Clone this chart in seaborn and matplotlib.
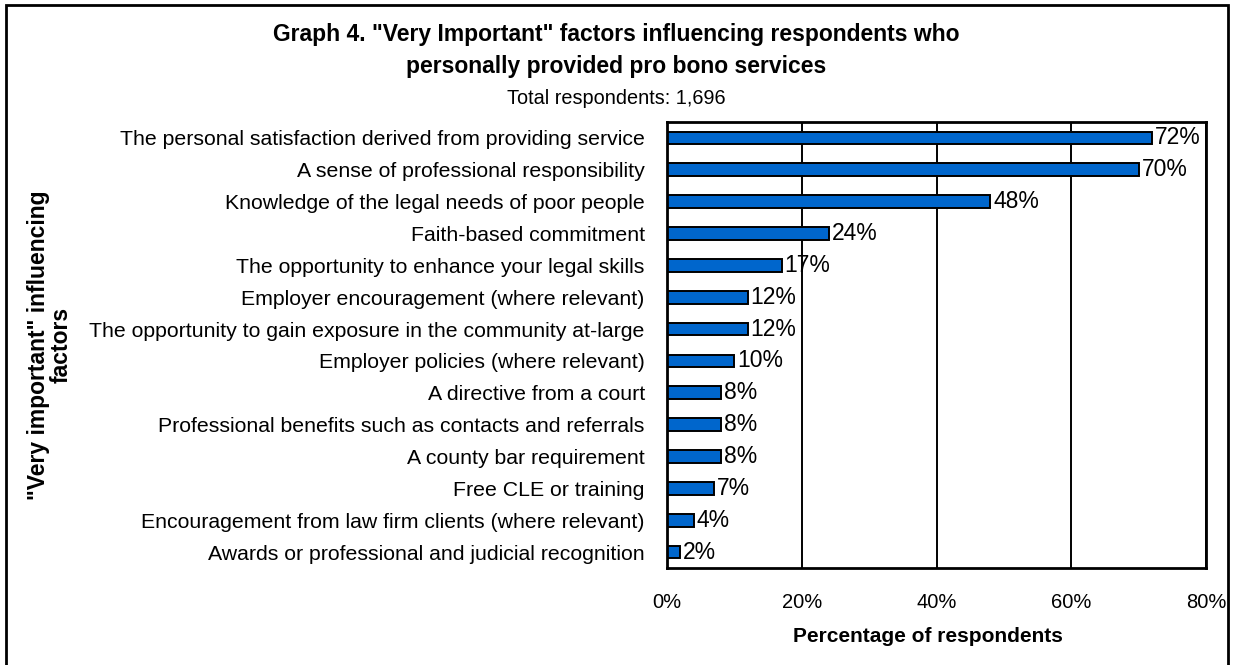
import matplotlib
matplotlib.use("Agg")
import matplotlib.pyplot as plt
from matplotlib.patches import Rectangle
from matplotlib.ticker import FuncFormatter
import seaborn as sns
import pandas as pd

# Factors rated "very important" and the share of respondents choosing each
factors = [
    "The personal satisfaction derived from providing service",
    "A sense of professional responsibility",
    "Knowledge of the legal needs of poor people",
    "Faith-based commitment",
    "The opportunity to enhance your legal skills",
    "Employer encouragement (where relevant)",
    "The opportunity to gain exposure in the community at-large",
    "Employer policies (where relevant)",
    "A directive from a court",
    "Professional benefits such as contacts and referrals",
    "A county bar requirement",
    "Free CLE or training",
    "Encouragement from law firm clients (where relevant)",
    "Awards or professional and judicial recognition",
]
percent = [72, 70, 48, 24, 17, 12, 12, 10, 8, 8, 8, 7, 4, 2]
x_ticks = [0, 20, 40, 60, 80]

title_lines = ['Graph 4. "Very Important" factors influencing respondents who',
               'personally provided pro bono services']
subtitle = "Total respondents: 1,696"
x_title = "Percentage of respondents"
y_title = '"Very important" influencing\nfactors'

df = pd.DataFrame({"factor": factors, "percent": percent})

sns.set_style("white")
plt.rcParams["font.family"] = ["Liberation Sans", "DejaVu Sans"]
plt.rcParams["text.color"] = "black"
plt.rcParams["xtick.color"] = "black"
plt.rcParams["ytick.color"] = "black"

W, H = 1233, 665
fig = plt.figure(figsize=(W / 100, H / 100), dpi=100)
fig.patch.set_facecolor("white")

# plot area in pixel terms
left, right, top, bottom = 667, 1206, 122, 568
ax = fig.add_axes([left / W, 1 - bottom / H, (right - left) / W, (bottom - top) / H])

sns.barplot(data=df, x="percent", y="factor", orient="h", color="#0066CC",
            saturation=1, edgecolor="black", linewidth=1.4, width=0.4, ax=ax)

ax.set_xlim(0, 80)
ax.set_xticks(x_ticks)
ax.xaxis.set_major_formatter(FuncFormatter(lambda v, _: f"{v:.0f}%"))
ax.grid(axis="x", color="black", linewidth=1.4)
ax.set_axisbelow(True)
ax.set_xlabel("")
ax.set_ylabel("")
ax.tick_params(axis="y", length=0, pad=16, labelsize=15.3, labelcolor="black")
ax.tick_params(axis="x", length=0, pad=18, labelsize=14.5, labelcolor="black")
for s in ax.spines.values():
    s.set_visible(True)
    s.set_color("black")
    s.set_linewidth(2)

for cont in ax.containers:
    ax.bar_label(cont, labels=[f"{v}%" for v in percent], padding=2,
                 fontsize=16.5, color="black")

# titles
fig.text(0.5, 1 - 35 / H, title_lines[0], ha="center", va="center",
         fontsize=16.5, fontweight="bold")
fig.text(0.5, 1 - 66 / H, title_lines[1], ha="center", va="center",
         fontsize=16.5, fontweight="bold")
fig.text(0.5, 1 - 98 / H, subtitle, ha="center", va="center", fontsize=14.3)

# axis titles
fig.text(928 / W, 1 - 637 / H, x_title, ha="center", va="center",
         fontsize=15, fontweight="bold")
fig.text(50 / W, 1 - 345 / H, y_title, ha="center", va="center", rotation=90,
         fontsize=16.5, fontweight="bold", linespacing=1.0, multialignment="center")

# outer chart border (runs past the bottom edge)
fig.add_artist(Rectangle((6 / W, -0.05), (1228 - 6) / W, 1.05 - 5 / H,
                         transform=fig.transFigure, fill=False,
                         edgecolor="black", linewidth=2, clip_on=False))

fig.savefig("out.png", dpi=100)
